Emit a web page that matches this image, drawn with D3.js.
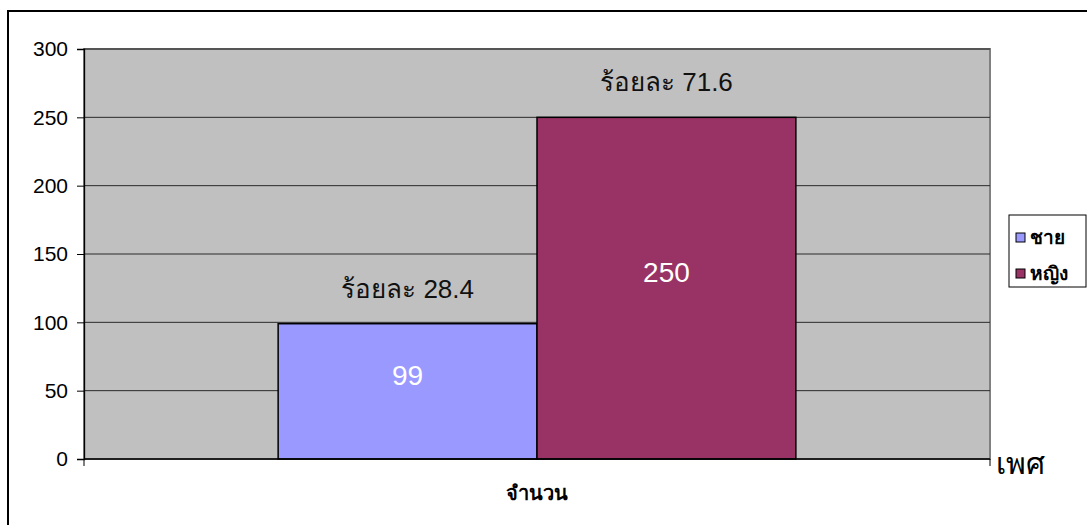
<!DOCTYPE html>
<html>
<head>
<meta charset="utf-8">
<script src="https://cdn.jsdelivr.net/npm/d3@7"></script>
<style>
  body { margin: 0; background: #fff; }
  svg { display: block; font-family: "Liberation Sans", Arial, sans-serif; }
</style>
</head>
<body>
<div id="chart"></div>
<script>
// data
let categories = ['จำนวน'];
let seriesNames = ['ชาย', 'หญิง'];
let seriesValues = [99, 250];
let percentLabels = ['ร้อยละ 28.4', 'ร้อยละ 71.6'];
let seriesColors = ['#9999FF', '#993366'];
let yTicks = [0, 50, 100, 150, 200, 250, 300];

let width = 1087, height = 525;
let plot = {left: 84, top: 49, right: 990, bottom: 459};

let svg = d3.select('#chart').append('svg')
    .attr('width', width)
    .attr('height', height);

// outer chart border (runs off the right/bottom of the picture)
svg.append('rect')
    .attr('x', 8).attr('y', 11)
    .attr('width', 1100).attr('height', 540)
    .attr('fill', '#fff')
    .attr('stroke', '#000')
    .attr('stroke-width', 2);

// scales
let y = d3.scaleLinear()
    .domain([0, 300])
    .range([plot.bottom, plot.top]);

let x0 = d3.scaleBand()
    .domain(categories)
    .range([plot.left, plot.right]);

// 150% gap width -> 0.75 of a bar on each side
let x1 = d3.scaleBand()
    .domain(seriesNames)
    .range([0, x0.bandwidth()])
    .paddingInner(0)
    .paddingOuter(0.75);

// plot area
svg.append('rect')
    .attr('x', plot.left).attr('y', plot.top)
    .attr('width', plot.right - plot.left)
    .attr('height', plot.bottom - plot.top)
    .attr('fill', '#C0C0C0')
    .attr('stroke', '#808080')
    .attr('stroke-width', 2);

// grid lines
svg.append('g')
    .selectAll('line')
    .data(yTicks.filter(function (d) { return d > 0; }))
    .enter().append('line')
    .attr('x1', plot.left).attr('x2', plot.right)
    .attr('y1', function (d) { return y(d); })
    .attr('y2', function (d) { return y(d); })
    .attr('stroke', '#2a2a2a')
    .attr('stroke-width', 1);

// bars
let cat = svg.selectAll('.cat')
    .data(categories)
    .enter().append('g')
    .attr('class', 'cat')
    .attr('transform', function (d) { return 'translate(' + x0(d) + ',0)'; });

let barData = seriesNames.map(function (s, i) {
    return {name: s, value: seriesValues[i], pct: percentLabels[i], color: seriesColors[i]};
});

cat.selectAll('rect')
    .data(barData)
    .enter().append('rect')
    .attr('x', function (d) { return x1(d.name); })
    .attr('y', function (d) { return y(d.value); })
    .attr('width', x1.bandwidth())
    .attr('height', function (d) { return y(0) - y(d.value); })
    .attr('fill', function (d) { return d.color; })
    .attr('stroke', '#000')
    .attr('stroke-width', 1.5);

// value inside bar
cat.selectAll('.val')
    .data(barData)
    .enter().append('text')
    .attr('class', 'val')
    .attr('x', function (d) { return x1(d.name) + x1.bandwidth() / 2; })
    .attr('y', function (d) { return (y(d.value) + y(0)) / 2 - 6; })
    .attr('text-anchor', 'middle')
    .attr('fill', '#fff')
    .style('font-size', '28px')
    .text(function (d) { return d.value; });

// percentage above bar
cat.selectAll('.pct')
    .data(barData)
    .enter().append('text')
    .attr('class', 'pct')
    .attr('x', function (d) { return x1(d.name) + x1.bandwidth() / 2; })
    .attr('y', function (d) { return y(d.value) - 26; })
    .attr('text-anchor', 'middle')
    .attr('fill', '#111')
    .style('font-size', '26px')
    .text(function (d) { return d.pct; });

// y axis
let yAxis = svg.append('g')
    .attr('transform', 'translate(' + plot.left + ',0)')
    .call(d3.axisLeft(y).tickValues(yTicks).tickSize(7).tickPadding(9));
yAxis.select('.domain').attr('stroke', '#000').attr('stroke-width', 1.3);
yAxis.selectAll('.tick line').attr('stroke', '#000');
yAxis.selectAll('text')
    .attr('fill', '#000')
    .style('font-size', '21px')
    .style('font-family', '"Liberation Sans", Arial, sans-serif');

// x axis
svg.append('line')
    .attr('x1', plot.left).attr('x2', plot.right)
    .attr('y1', plot.bottom).attr('y2', plot.bottom)
    .attr('stroke', '#000').attr('stroke-width', 1.3);

svg.selectAll('.xtick')
    .data([x0.range()[0], x0.range()[1]])
    .enter().append('line')
    .attr('class', 'xtick')
    .attr('x1', function (d) { return d; })
    .attr('x2', function (d) { return d; })
    .attr('y1', plot.bottom)
    .attr('y2', plot.bottom + 7)
    .attr('stroke', '#000');

svg.selectAll('.xlab')
    .data(categories)
    .enter().append('text')
    .attr('class', 'xlab')
    .attr('x', function (d) { return x0(d) + x0.bandwidth() / 2; })
    .attr('y', 500)
    .attr('text-anchor', 'middle')
    .style('font-size', '20px')
    .style('font-weight', 'bold')
    .text(function (d) { return d; });

// axis title
svg.append('text')
    .attr('x', 996)
    .attr('y', 474)
    .style('font-size', '30px')
    .text('เพศ');

// legend
let legend = svg.append('g');
legend.append('rect')
    .attr('x', 1009).attr('y', 215)
    .attr('width', 77).attr('height', 72)
    .attr('fill', '#fff')
    .attr('stroke', '#000')
    .attr('stroke-width', 1);

let items = legend.selectAll('.item')
    .data(barData)
    .enter().append('g')
    .attr('class', 'item')
    .attr('transform', function (d, i) { return 'translate(1016,' + (233 + i * 36) + ')'; });

items.append('rect')
    .attr('width', 9).attr('height', 9)
    .attr('fill', function (d) { return d.color; })
    .attr('stroke', '#000')
    .attr('stroke-width', 1);

items.append('text')
    .attr('x', 14)
    .attr('y', 11)
    .style('font-size', '19px')
    .style('font-weight', 'bold')
    .text(function (d) { return d.name; });
</script>
</body>
</html>
